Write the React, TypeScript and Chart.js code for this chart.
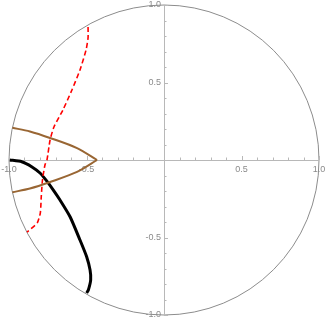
import React, { useEffect, useRef } from "react";
import { Chart, registerables } from "chart.js";

Chart.register(...registerables);

// Black thick curve
const blackX = [-0.995, -0.918, -0.854, -0.8, -0.757, -0.714, -0.671, -0.606, -0.542, -0.499, -0.477, -0.473, -0.488, -0.499];
const blackY = [0.0, -0.011, -0.043, -0.084, -0.135, -0.194, -0.258, -0.366, -0.516, -0.624, -0.71, -0.774, -0.839, -0.858];

// Red dashed curve
const redX = [-0.49, -0.49, -0.503, -0.542, -0.594, -0.652, -0.71, -0.735, -0.755, -0.768, -0.784, -0.792, -0.798, -0.818, -0.884];
const redY = [0.858, 0.787, 0.71, 0.581, 0.452, 0.323, 0.213, 0.129, 0.0, -0.032, -0.129, -0.239, -0.342, -0.406, -0.465];

// Brown curves (upper and lower branch)
const brownUpperX = [-0.978, -0.865, -0.735, -0.561, -0.432];
const brownUpperY = [0.208, 0.184, 0.142, 0.077, 0.0];
const brownLowerX = [-0.978, -0.865, -0.735, -0.561, -0.432];
const brownLowerY = [-0.208, -0.184, -0.142, -0.077, 0.0];

// Axis ticks
const majorTicks = [-1.0, -0.5, 0.5, 1.0];
const majorTickLabels = ["-1.0", "-0.5", "0.5", "1.0"];
const minorTicks = [-0.9, -0.8, -0.7, -0.6, -0.4, -0.3, -0.2, -0.1, 0.1, 0.2, 0.3, 0.4, 0.6, 0.7, 0.8, 0.9];
const circleRadius = 1;

const toPoints = (xs: number[], ys: number[]) => xs.map((x, i) => ({ x, y: ys[i] }));

const axesPlugin = {
  id: "centerAxes",
  beforeDatasetsDraw(chart: any) {
    const { ctx } = chart;
    const xs = chart.scales.x;
    const ys = chart.scales.y;
    const cx = xs.getPixelForValue(0);
    const cy = ys.getPixelForValue(0);
    ctx.save();
    // circle
    const r = xs.getPixelForValue(circleRadius) - cx;
    ctx.strokeStyle = "#8c8c8c";
    ctx.lineWidth = 1;
    ctx.beginPath();
    ctx.arc(cx, cy, r, 0, Math.PI * 2);
    ctx.stroke();

    // axes lines
    ctx.strokeStyle = "#b8b8b8";
    ctx.lineWidth = 1;
    ctx.beginPath();
    ctx.moveTo(xs.getPixelForValue(-1), Math.round(cy) + 0.5);
    ctx.lineTo(xs.getPixelForValue(1), Math.round(cy) + 0.5);
    ctx.moveTo(Math.round(cx) + 0.5, ys.getPixelForValue(1));
    ctx.lineTo(Math.round(cx) + 0.5, ys.getPixelForValue(-1));
    ctx.stroke();

    // ticks
    ctx.beginPath();
    majorTicks.forEach((v) => {
      const px = Math.round(xs.getPixelForValue(v)) + 0.5;
      ctx.moveTo(px, cy);
      ctx.lineTo(px, cy - 4);
      const py = Math.round(ys.getPixelForValue(v)) + 0.5;
      ctx.moveTo(cx, py);
      ctx.lineTo(cx + 4, py);
    });
    minorTicks.forEach((v) => {
      const px = Math.round(xs.getPixelForValue(v)) + 0.5;
      ctx.moveTo(px, cy);
      ctx.lineTo(px, cy - 2.5);
      const py = Math.round(ys.getPixelForValue(v)) + 0.5;
      ctx.moveTo(cx, py);
      ctx.lineTo(cx + 2.5, py);
    });
    ctx.stroke();

    // labels
    ctx.fillStyle = "#8a8a8a";
    ctx.font = "9px 'Liberation Sans', Arial, sans-serif";
    ctx.textAlign = "center";
    ctx.textBaseline = "middle";
    majorTicks.forEach((v, i) => {
      ctx.fillText(majorTickLabels[i], xs.getPixelForValue(v), cy + 9.5);
    });
    ctx.textAlign = "right";
    majorTicks.forEach((v, i) => {
      ctx.fillText(majorTickLabels[i], cx - 3, ys.getPixelForValue(v));
    });
    ctx.restore();
  },
};

export default function App() {
  const ref = useRef<HTMLCanvasElement>(null);
  useEffect(() => {
    document.body.style.margin = "0";
    const chart = new Chart(ref.current!, {
      type: "scatter",
      data: {
        datasets: [
          {
            data: toPoints(brownUpperX, brownUpperY),
            showLine: true,
            borderColor: "#996633",
            borderWidth: 2,
            pointRadius: 0,
            tension: 0.3,
            clip: false,
          },
          {
            data: toPoints(brownLowerX, brownLowerY),
            showLine: true,
            borderColor: "#996633",
            borderWidth: 2,
            pointRadius: 0,
            tension: 0.3,
            clip: false,
          },
          {
            data: toPoints(redX, redY),
            showLine: true,
            borderColor: "#ff0000",
            borderWidth: 1.6,
            borderDash: [5, 3],
            pointRadius: 0,
            tension: 0.2,
            clip: false,
          },
          {
            data: toPoints(blackX, blackY),
            showLine: true,
            borderColor: "#000000",
            borderWidth: 3,
            pointRadius: 0,
            tension: 0.2,
            clip: false,
          },
        ] as any,
      },
      options: {
        animation: false,
        responsive: false,
        maintainAspectRatio: false,
        layout: { padding: { left: 9, right: 8, top: 5, bottom: 7 } },
        plugins: { legend: { display: false }, tooltip: { enabled: false } },
        scales: {
          x: { type: "linear", min: -1, max: 1, display: false },
          y: { type: "linear", min: -1, max: 1, display: false },
        },
      },
      plugins: [axesPlugin],
    });
    return () => chart.destroy();
  }, []);
  return (
    <div style={{ position: "absolute", left: 0, top: 0, width: 327, height: 322 }}>
      <canvas ref={ref} width={327} height={322} style={{ width: 327, height: 322 }} />
    </div>
  );
}
